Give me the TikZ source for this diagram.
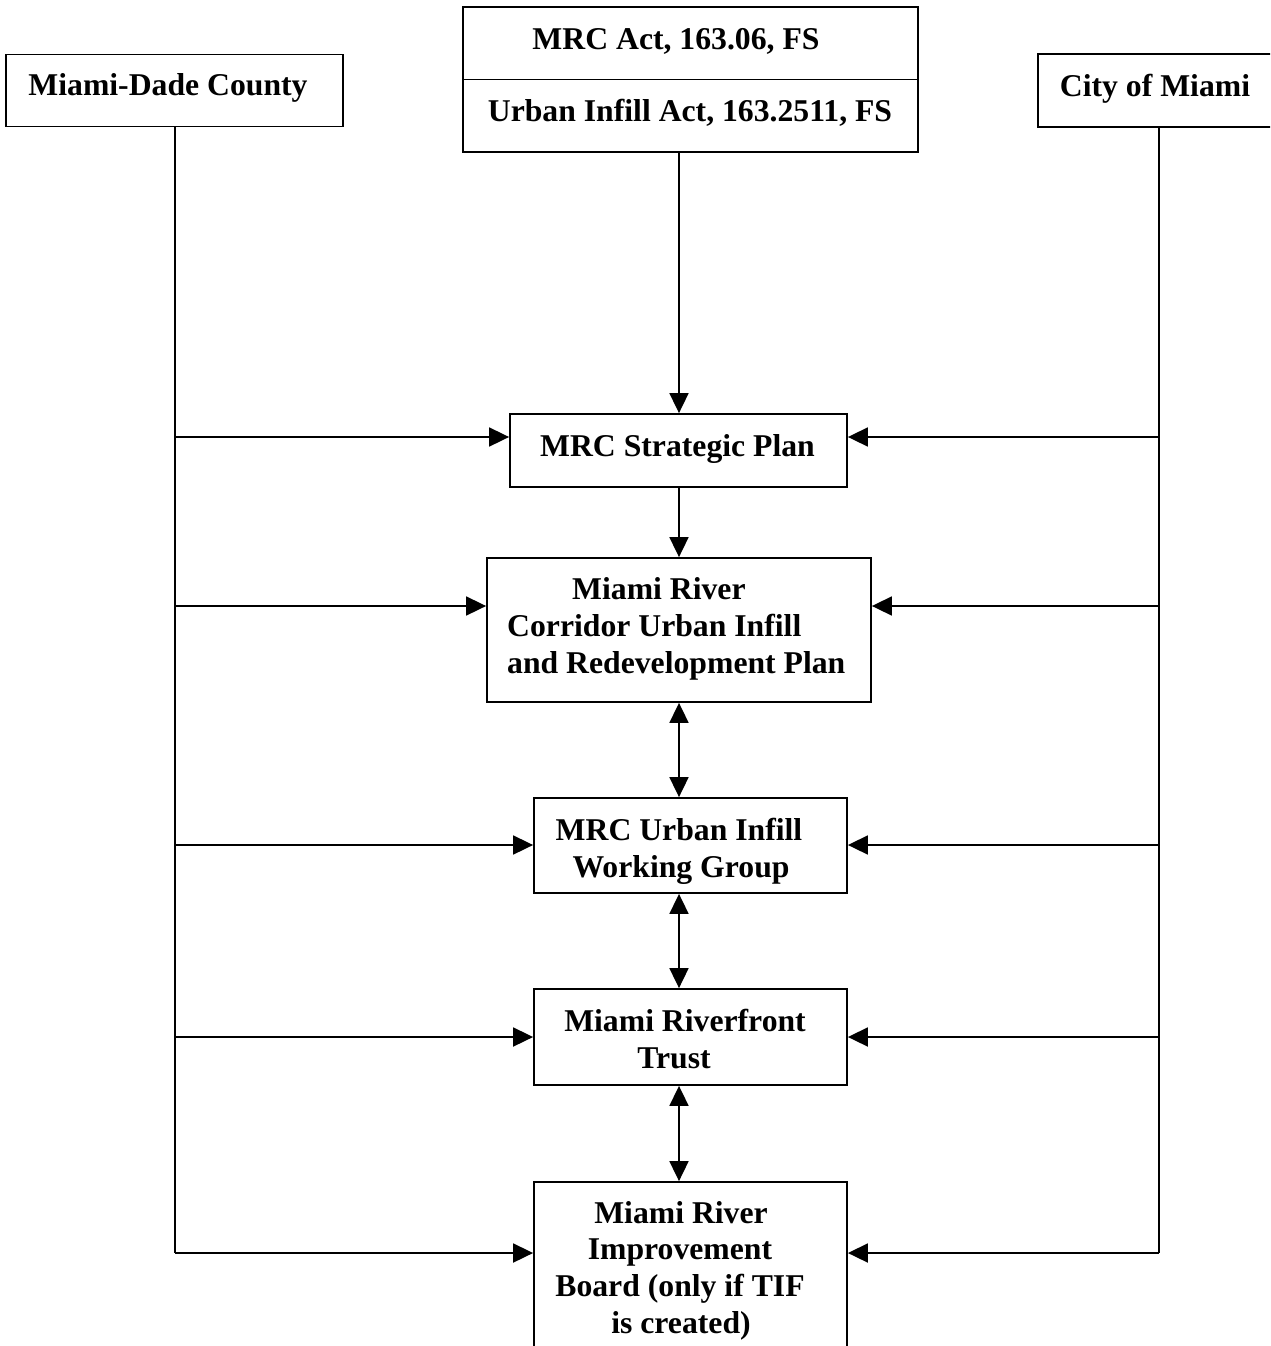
\documentclass[tikz,border=0pt]{standalone}
\usepackage{fontspec}
\setmainfont{Liberation Serif}
\usetikzlibrary{arrows.meta}
\begin{document}
\begin{tikzpicture}[x=1pt,y=-1pt,
  box/.style={draw, line width=1.8pt, rectangle, inner sep=0pt},
  txt/.style={inner sep=0pt, font=\fontsize{31.7}{37}\selectfont\bfseries},
  conn/.style={line width=1.8pt},
  arr/.style={conn, -{Triangle[length=20pt,width=19pt]}},
  darr/.style={conn, {Triangle[length=20pt,width=19pt]}-{Triangle[length=20pt,width=19pt]}}]
\clip (0,0) rectangle (1270,1346);
% boxes
\node[box, minimum width=337pt, minimum height=72pt] (mdc) at (174.5,90.5) {};
\node[box, minimum width=455pt, minimum height=145pt] (acts) at (690.5,79.5) {};
\node[box, minimum width=252pt, minimum height=73pt] (city) at (1164,90.5) {};
\node[box, minimum width=337pt, minimum height=73pt] (sp) at (678.5,450.5) {};
\node[box, minimum width=384pt, minimum height=144pt] (corr) at (679,630) {};
\node[box, minimum width=313pt, minimum height=95pt] (wg) at (690.5,845.5) {};
\node[box, minimum width=313pt, minimum height=96pt] (trust) at (690.5,1037) {};
\node[box, minimum width=313pt, minimum height=188pt] (mrib) at (690.5,1276) {};
\draw[conn] (acts.west) -- (acts.east);
% texts
\node[txt, anchor=base] (t1) at (168,95) {Miami-Dade County};
\node[txt, anchor=base] (t2) at (676,49) {MRC Act, 163.06, FS};
\node[txt, anchor=base] (t3) at (690,121) {Urban Infill Act, 163.2511, FS};
\node[txt, anchor=base] (t4) at (1155,96) {City of Miami};
\node[txt, anchor=base] (t5) at (677.5,456) {MRC Strategic Plan};
\node[txt, anchor=base west] (t6) at (572,599) {Miami River};
\node[txt, anchor=base west] (t7) at (507,636) {Corridor Urban Infill};
\node[txt, anchor=base west] (t8) at (507,673) {and Redevelopment Plan};
\node[txt, anchor=base] (t9) at (679,840) {MRC Urban Infill};
\node[txt, anchor=base] (t10) at (681,877) {Working Group};
\node[txt, anchor=base] (t11) at (685,1031) {Miami Riverfront};
\node[txt, anchor=base] (t12) at (674,1068) {Trust};
\node[txt, anchor=base] (t13) at (681,1223) {Miami River};
\node[txt, anchor=base] (t14) at (680,1259) {Improvement};
\node[txt, anchor=base] (t15) at (680,1296) {Board (only if TIF};
\node[txt, anchor=base] (t16) at (681,1333) {is created)};
% coordinates
\coordinate (cx) at (679,0);
\coordinate (lx) at (175,0);
\coordinate (rx) at (1159,0);
\coordinate (l1) at (175,437);
\coordinate (l2) at (175,606);
\coordinate (l3) at (175,845);
\coordinate (l4) at (175,1037);
\coordinate (l5) at (175,1253);
\coordinate (r1) at (1159,437);
\coordinate (r2) at (1159,606);
\coordinate (r3) at (1159,845);
\coordinate (r4) at (1159,1037);
\coordinate (r5) at (1159,1253);
% vertical trunks
\draw[conn] (mdc.south -| lx) -- (l5);
\draw[conn] (city.south -| rx) -- (r5);
% left arrows
\draw[arr] (l1) -- (l1 -| sp.west);
\draw[arr] (l2) -- (l2 -| corr.west);
\draw[arr] (l3) -- (l3 -| wg.west);
\draw[arr] (l4) -- (l4 -| trust.west);
\draw[arr] (l5) -- (l5 -| mrib.west);
% right arrows
\draw[arr] (r1) -- (r1 -| sp.east);
\draw[arr] (r2) -- (r2 -| corr.east);
\draw[arr] (r3) -- (r3 -| wg.east);
\draw[arr] (r4) -- (r4 -| trust.east);
\draw[arr] (r5) -- (r5 -| mrib.east);
% central flow
\draw[arr] (acts.south -| cx) -- (sp.north -| cx);
\draw[arr] (sp.south -| cx) -- (corr.north -| cx);
\draw[darr] (corr.south -| cx) -- (wg.north -| cx);
\draw[darr] (wg.south -| cx) -- (trust.north -| cx);
\draw[darr] (trust.south -| cx) -- (mrib.north -| cx);
\end{tikzpicture}
\end{document}
